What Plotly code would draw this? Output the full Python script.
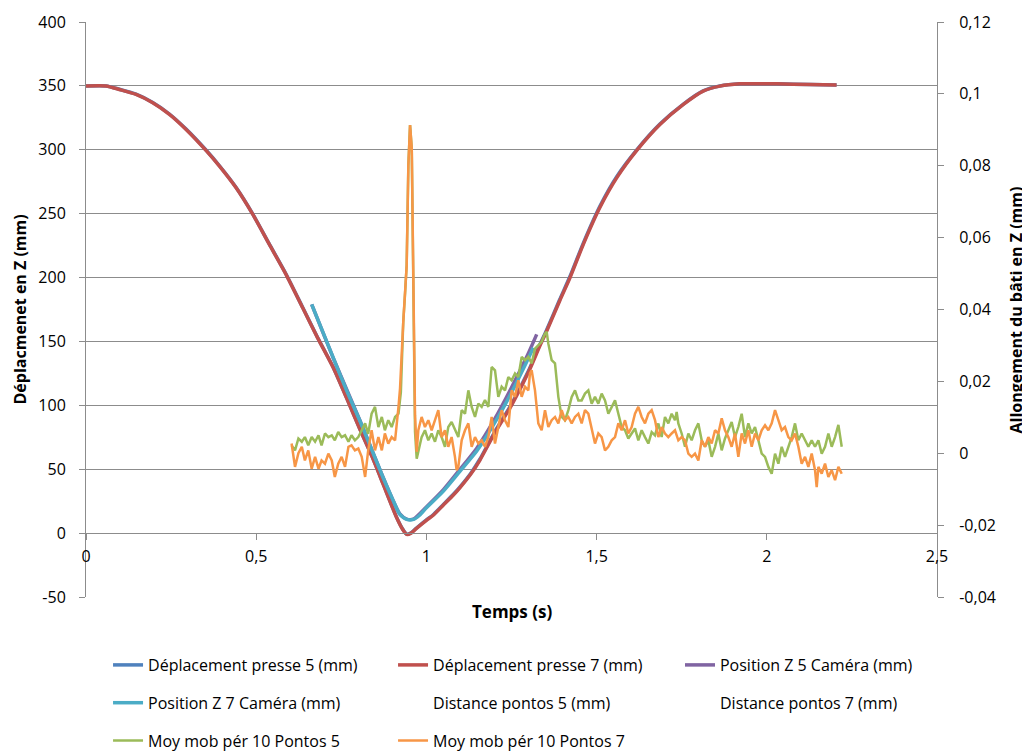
import plotly.graph_objects as go

# ---------------- data ----------------
# Déplacement presse 7 (mm) / 5 (mm) : time (s), displacement (mm)
press_t = [0, 0.059, 0.098, 0.147, 0.196, 0.245, 0.294, 0.3525, 0.392, 0.441, 0.49, 0.5386,
           0.5875, 0.6366, 0.68, 0.7265, 0.765, 0.805, 0.84, 0.8734, 0.9127, 0.93, 0.942, 0.955,
           0.97, 1.0, 1.02, 1.05, 1.08, 1.1, 1.13, 1.157, 1.2, 1.25, 1.3, 1.334, 1.35, 1.392,
           1.422, 1.461, 1.51, 1.559, 1.618, 1.686, 1.755, 1.813, 1.862, 1.921, 2.029, 2.127, 2.205]
press7_y = [350, 350, 347.2, 343.3, 336.8, 327.7, 315.9, 299.5, 287.2, 270.2, 249.4, 225.9,
            202.5, 176.3, 153, 129.4, 106, 81, 60, 38, 12, 3, -1, 0,
            3.5, 10, 14, 22, 30, 36, 46, 57, 78, 100, 126, 147, 156, 182,
            200, 226, 255, 278, 299.5, 319.8, 335.5, 345.9, 349.8, 351.6, 351.6, 351, 350.6]
press5_y = [350, 350, 347.4, 343.5, 337.0, 328.0, 316.2, 299.8, 287.5, 270.5, 249.7, 226.2,
            202.8, 176.6, 153.3, 129.7, 106.3, 81.3, 60.3, 38.3, 12.3, 3.3, -0.8, 0.3,
            3.8, 10.4, 14.4, 22.5, 30.6, 36.6, 46.7, 57.8, 78.9, 101, 127, 148, 157, 183,
            201, 227, 256, 279, 300, 320.2, 335.8, 346.1, 349.9, 351.6, 351.6, 351, 350.6]

# Position Z 7 Caméra (mm)
cam7_t = [0.663, 0.7265, 0.765, 0.805, 0.84, 0.873, 0.9, 0.922, 0.942, 0.962, 0.98, 1.0,
          1.05, 1.099, 1.148, 1.2, 1.25, 1.3, 1.314]
cam7_y = [179, 137.2, 112, 87.7, 65, 43.3, 27, 14.6, 10.7, 10.7, 14, 19.8,
          32.9, 48.5, 64.2, 86, 110, 137, 145]
# Position Z 5 Caméra (mm)
cam5_t = [0.663, 0.7265, 0.805, 0.873, 0.922, 0.942, 0.962, 1.0, 1.05, 1.099, 1.148, 1.2,
          1.25, 1.3, 1.324]
cam5_y = [179, 137, 88, 43.5, 15, 11, 11, 20.5, 34, 50, 66.5, 89,
          114, 141, 155.5]

# Distance pontos 5 / 7 (mm): no visible data in the chart
dist5_t, dist5_y = [None], [None]
dist7_t, dist7_y = [None], [None]

# Moy mob pér 10 Pontos 5 (secondary axis, mm)
mm5_t = [0.604, 0.614, 0.624, 0.634, 0.643, 0.653, 0.663, 0.673, 0.683, 0.692, 0.702, 0.712,
         0.722, 0.731, 0.741, 0.751, 0.761, 0.771, 0.780, 0.790, 0.800, 0.810, 0.820, 0.829,
         0.839, 0.849, 0.859, 0.869, 0.878, 0.888, 0.898, 0.908, 0.918, 0.925, 0.932, 0.937,
         0.942, 0.947, 0.952, 0.957, 0.962, 0.9666, 0.9715, 0.9763, 0.986, 0.9958, 1.0056,
         1.0154, 1.0252, 1.035, 1.0447, 1.0545, 1.0643, 1.0741, 1.0839, 1.0938, 1.1036,
         1.1134, 1.1232, 1.1330, 1.1428, 1.1526, 1.1624, 1.1721, 1.1819, 1.1917, 1.2015,
         1.2113, 1.2211, 1.2309, 1.2407, 1.2505, 1.2603, 1.2701, 1.2799, 1.2897, 1.2995,
         1.3092, 1.3190, 1.3288, 1.3386, 1.3484, 1.3533, 1.3582, 1.3680, 1.3778, 1.3876,
         1.3974, 1.4072, 1.4170, 1.4268, 1.4366, 1.4464, 1.4561, 1.4659, 1.4757, 1.4855,
         1.4953, 1.5051, 1.5149, 1.5247, 1.5345, 1.5443, 1.5541, 1.5639, 1.5737, 1.5835,
         1.5932, 1.6030, 1.6128, 1.6226, 1.6324, 1.6422, 1.6520, 1.6618, 1.6716, 1.6814,
         1.6911, 1.7009, 1.7107, 1.7205, 1.7303, 1.7352, 1.7401, 1.7499, 1.7597, 1.7695,
         1.7793, 1.7891, 1.7989, 1.8087, 1.8185, 1.8283, 1.8381, 1.8479, 1.8577, 1.8675,
         1.8772, 1.8870, 1.8968, 1.9066, 1.9164, 1.9262, 1.9360, 1.9458, 1.9556, 1.9654,
         1.9752, 1.9850, 1.9948, 2.0046, 2.0144, 2.0242, 2.0340, 2.0437, 2.0535, 2.0633,
         2.0731, 2.0829, 2.0927, 2.1025, 2.1123, 2.1221, 2.1319, 2.1417, 2.1515, 2.1613,
         2.1711, 2.1809, 2.1907, 2.2005, 2.2103, 2.2201]
mm5_v = [0.0022, 0.0008, 0.0041, 0.0032, 0.0045, 0.0022, 0.0045, 0.0032, 0.0050, 0.0022, 0.0055, 0.0045,
         0.0050, 0.0036, 0.0059, 0.0045, 0.0050, 0.0032, 0.0050, 0.0036, 0.0045, 0.0064, 0.0083, 0.0054,
         0.0110, 0.0129, 0.0073, 0.0101, 0.0064, 0.0092, 0.0073, 0.0101, 0.0110, 0.0170, 0.0365, 0.0439,
         0.0523, 0.0801, 0.0913, 0.0848, 0.0477, 0.0059, -0.0015, 0.0008, 0.0045, 0.0064, 0.0036,
         0.0055, 0.0032, 0.0064, 0.0045, 0.0018, 0.0073, 0.0087, 0.0068, 0.0045, 0.0120,
         0.0110, 0.0175, 0.0129, 0.0101, 0.0138, 0.0129, 0.0148, 0.0129, 0.0240, 0.0231,
         0.0157, 0.0185, 0.0175, 0.0212, 0.0203, 0.0222, 0.0212, 0.0268, 0.0259, 0.0268,
         0.0250, 0.0291, 0.0300, 0.0310, 0.0333, 0.0338, 0.0305, 0.0259, 0.0250, 0.0157,
         0.0101, 0.0092, 0.0120, 0.0157, 0.0175, 0.0147, 0.0147, 0.0166, 0.0175, 0.0138,
         0.0157, 0.0138, 0.0166, 0.0147, 0.0110, 0.0129, 0.0147, 0.0110, 0.0073, 0.0064,
         0.0041, 0.0055, 0.0069, 0.0036, 0.0064, 0.0045, 0.0027, 0.0059, 0.0050, 0.0083,
         0.0045, 0.0101, 0.0083, 0.0110, 0.0092, 0.0115, 0.0083, 0.0055, 0.0018, 0.0055,
         0.0036, 0.0064, 0.0083, 0.0036, 0.0018, 0.0036, -0.0010, 0.0018, 0.0055, 0.0008,
         0.0041, 0.0064, 0.0087, 0.0045, 0.0073, 0.0110, 0.0045, 0.0083, 0.0055, 0.0073,
         0.0036, -0.0001, -0.0010, -0.0038, -0.0057, -0.0001, -0.0029, 0.0018, -0.0010, 0.0018,
         0.0045, 0.0083, 0.0036, 0.0055, 0.0036, 0.0018, 0.0036, 0.0018, 0.0036, -0.0001,
         0.0018, 0.0055, 0.0018, 0.0045, 0.0079, 0.0018]

# Moy mob pér 10 Pontos 7 (secondary axis, mm)
mm7_t = [0.604, 0.614, 0.624, 0.634, 0.643, 0.653, 0.663, 0.673, 0.683, 0.692, 0.702, 0.712,
         0.722, 0.731, 0.741, 0.751, 0.761, 0.771, 0.780, 0.790, 0.800, 0.810, 0.820, 0.829,
         0.839, 0.849, 0.859, 0.869, 0.878, 0.888, 0.898, 0.908, 0.918, 0.9225, 0.932, 0.9372,
         0.9421, 0.947, 0.952, 0.957, 0.9617, 0.9666, 0.9715, 0.9763, 0.986, 0.9958, 1.0056,
         1.0154, 1.0252, 1.035, 1.0447, 1.0545, 1.0643, 1.0741, 1.0839, 1.0888, 1.0938,
         1.1036, 1.1134, 1.1232, 1.1330, 1.1428, 1.1526, 1.1624, 1.1721, 1.1819, 1.1917,
         1.2015, 1.2113, 1.2211, 1.2309, 1.2407, 1.2505, 1.2603, 1.2701, 1.2799, 1.2897,
         1.2995, 1.3043, 1.3092, 1.3190, 1.3288, 1.3386, 1.3484, 1.3582, 1.3680, 1.3778,
         1.3876, 1.3974, 1.4072, 1.4170, 1.4268, 1.4366, 1.4464, 1.4561, 1.4659, 1.4757,
         1.4855, 1.4953, 1.5051, 1.5149, 1.5247, 1.5345, 1.5443, 1.5541, 1.5639, 1.5737,
         1.5835, 1.5932, 1.6030, 1.6128, 1.6226, 1.6324, 1.6422, 1.6520, 1.6618, 1.6716,
         1.6814, 1.6911, 1.7009, 1.7107, 1.7205, 1.7303, 1.7401, 1.7499, 1.7597, 1.7695,
         1.7793, 1.7891, 1.7989, 1.8087, 1.8185, 1.8283, 1.8381, 1.8479, 1.8577, 1.8675,
         1.8772, 1.8870, 1.8968, 1.9066, 1.9164, 1.9262, 1.9360, 1.9458, 1.9556, 1.9654,
         1.9752, 1.9850, 1.9948, 2.0046, 2.0144, 2.0242, 2.0340, 2.0437, 2.0535, 2.0633,
         2.0731, 2.0829, 2.0927, 2.1025, 2.1123, 2.1221, 2.1319, 2.1417, 2.1466, 2.1515,
         2.1613, 2.1711, 2.1809, 2.1907, 2.2005, 2.2103, 2.2201]
mm7_v = [0.0027, -0.0038, 0.0000, 0.0018, -0.0020, 0.0008, -0.0043, -0.0010, -0.0043, -0.0020, -0.0029, -0.0001,
         -0.0020, -0.0066, -0.0029, -0.0010, -0.0038, 0.0018, 0.0022, 0.0008, 0.0013, -0.0010, -0.0066, 0.0008,
         0.0064, 0.0008, 0.0045, 0.0008, 0.0055, 0.0027, 0.0045, 0.0036, 0.0129, 0.0180, 0.0365, 0.0439,
         0.0523, 0.0801, 0.0913, 0.0848, 0.0477, 0.0106, 0.0004, 0.0064, 0.0101, 0.0073, 0.0092,
         0.0064, 0.0092, 0.0120, 0.0045, 0.0064, 0.0018, 0.0045, -0.0010, -0.0047, -0.0038,
         0.0036, 0.0064, 0.0083, 0.0018, 0.0045, 0.0027, 0.0036, 0.0018, 0.0045, 0.0101,
         0.0027, 0.0073, 0.0120, 0.0092, 0.0073, 0.0175, 0.0157, 0.0203, 0.0157, 0.0185,
         0.0175, 0.0222, 0.0231, 0.0175, 0.0083, 0.0064, 0.0120, 0.0073, 0.0092, 0.0101,
         0.0083, 0.0120, 0.0092, 0.0101, 0.0083, 0.0101, 0.0110, 0.0083, 0.0120, 0.0110,
         0.0064, 0.0027, 0.0055, 0.0045, 0.0008, 0.0018, 0.0036, 0.0045, 0.0083, 0.0064,
         0.0092, 0.0055, 0.0073, 0.0110, 0.0129, 0.0101, 0.0083, 0.0110, 0.0120, 0.0092,
         0.0045, 0.0073, 0.0055, 0.0045, 0.0055, 0.0064, 0.0036, 0.0045, 0.0036, -0.0001,
         -0.0010, -0.0001, -0.0020, 0.0036, 0.0018, 0.0045, 0.0027, 0.0064, 0.0055, 0.0097,
         0.0064, 0.0045, 0.0018, 0.0055, -0.0010, 0.0055, 0.0027, 0.0064, 0.0018, 0.0055,
         0.0036, 0.0064, 0.0078, 0.0064, 0.0083, 0.0120, 0.0092, 0.0064, 0.0073, 0.0045,
         0.0036, 0.0055, 0.0018, -0.0029, -0.0010, -0.0038, -0.0001, -0.0047, -0.0094, -0.0038,
         -0.0057, -0.0029, -0.0066, -0.0047, -0.0075, -0.0038, -0.0057]

# axis ticks
x_ticks = [0, 0.5, 1, 1.5, 2, 2.5]
x_ticklabels = ["0", "0,5", "1", "1,5", "2", "2,5"]
y_ticks = [-50, 0, 50, 100, 150, 200, 250, 300, 350, 400]
y_ticklabels = ["-50", "0", "50", "100", "150", "200", "250", "300", "350", "400"]
y2_ticks = [-0.04, -0.02, 0, 0.02, 0.04, 0.06, 0.08, 0.1, 0.12]
y2_ticklabels = ["-0,04", "-0,02", "0", "0,02", "0,04", "0,06", "0,08", "0,1", "0,12"]

# ---------------- figure ----------------
GRAY = "#8c8c8c"
FONT = "Open Sans"

fig = go.Figure()

def add_line(x, y, name, color, width, legend, yaxis="y", shape="linear"):
    fig.add_trace(go.Scatter(
        x=x, y=y, name=name, mode="lines", yaxis=yaxis,
        line=dict(color=color, width=width, shape=shape, smoothing=0.6),
        legend=legend, legendgroup=name, hoverinfo="skip"))

add_line(press_t, press5_y, "Déplacement presse 5 (mm)", "#4F81BD", 3.5, "legend", shape="spline")
add_line(press_t, press7_y, "Déplacement presse 7 (mm)", "#C0504D", 3.5, "legend2", shape="spline")
add_line(cam5_t, cam5_y, "Position Z 5 Caméra (mm)", "#8064A2", 3.5, "legend3", shape="spline")
add_line(cam7_t, cam7_y, "Position Z 7 Caméra (mm)", "#4BACC6", 3.5, "legend", shape="spline")
add_line(dist5_t, dist5_y, "Distance pontos 5 (mm)", "rgba(0,0,0,0)", 0, "legend2")
add_line(dist7_t, dist7_y, "Distance pontos 7 (mm)", "rgba(0,0,0,0)", 0, "legend3")
add_line(mm5_t, mm5_v, "Moy mob pér 10 Pontos 5", "#9BBB59", 2.5, "legend", "y2")
add_line(mm7_t, mm7_v, "Moy mob pér 10 Pontos 7", "#F79646", 2.5, "legend2", "y2")

leg_common = dict(orientation="v", yanchor="top", xanchor="left", y=-0.0887,
                  tracegroupgap=14, bgcolor="rgba(0,0,0,0)",
                  font=dict(family=FONT, size=16, color="black"))

fig.update_layout(
    width=1022, height=743,
    margin=dict(l=78, r=93, t=14, b=154, autoexpand=False),
    paper_bgcolor="white", plot_bgcolor="white",
    font=dict(family=FONT, size=16, color="black"),
    showlegend=True,
    legend=dict(x=0.0259, **leg_common),
    legend2=dict(x=0.3608, **leg_common),
    legend3=dict(x=0.698, **leg_common),
    xaxis=dict(range=[0, 2.5], tickvals=x_ticks, ticktext=x_ticklabels,
               anchor="free", position=50 / 450,
               showline=True, linecolor=GRAY, linewidth=1,
               ticks="outside", ticklen=6, tickcolor=GRAY,
               showgrid=False, zeroline=False, ticklabelstandoff=3),
    yaxis=dict(range=[-50, 400], tickvals=y_ticks, ticktext=y_ticklabels,
               showline=True, linecolor=GRAY, linewidth=1,
               ticks="outside", ticklen=6, tickcolor=GRAY,
               showgrid=True, gridcolor=GRAY, gridwidth=1, zeroline=False,
               ticklabelstandoff=10),
    yaxis2=dict(range=[-0.04, 0.12], tickvals=y2_ticks, ticktext=y2_ticklabels,
                overlaying="y", side="right", anchor="x",
                showline=True, linecolor=GRAY, linewidth=1,
                ticks="outside", ticklen=6, tickcolor=GRAY,
                showgrid=False, zeroline=False, ticklabelstandoff=12),
    annotations=[
        dict(text="<b>Temps (s)</b>", xref="paper", yref="paper", x=0.5, y=-0.026,
             xanchor="center", yanchor="middle",
             showarrow=False, font=dict(family=FONT, size=17, color="black")),
        dict(text="<b>Déplacmenet en Z (mm)</b>", xref="paper", yref="paper",
             x=-0.0787, y=0.5, xanchor="center", yanchor="middle", textangle=-90,
             showarrow=False, font=dict(family=FONT, size=16, color="black")),
        dict(text="<b>Allongement du bâti en Z (mm)</b>", xref="paper", yref="paper",
             x=1.0928, y=0.5, xanchor="center", yanchor="middle", textangle=-90,
             showarrow=False, font=dict(family=FONT, size=16, color="black")),
    ],
)

fig.write_html("out.html")
